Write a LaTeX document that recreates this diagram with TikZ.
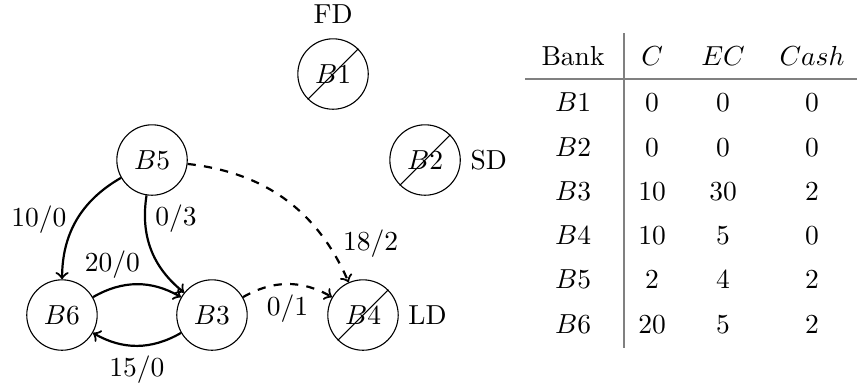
\documentclass[tikz,border=0pt]{standalone}
\usetikzlibrary{arrows, quotes}
\tikzstyle{bank} = [circle, draw, minimum size=9mm, inner sep=0pt]
\tikzstyle{flow} = [thick, ->]

\begin{document}
\begin{tikzpicture}[
debt/.style = {flow},
late/.style = {flow, dashed},
cell/.style = {anchor=base},
rule/.style = {draw=gray, line width=0.6pt}
                        ]
\useasboundingbox (0,0) rectangle (10.952,4.946);
% banks
\node [bank, label={[label distance=2pt]above:FD}] (B1) at (4.256,4.000) {$B1$};
\node [bank, label=right:SD] (B2) at (5.432,2.901) {$B2$};
\node [bank] (B5) at (1.943,2.901) {$B5$};
\node [bank] (B6) at (0.792,0.920) {$B6$};
\node [bank] (B3) at (2.709,0.920) {$B3$};
\node [bank, label=right:LD] (B4) at (4.639,0.920) {$B4$};
% defaulted banks are struck out
\draw (B1.south west) -- (B1.north east);
\draw (B2.south west) -- (B2.north east);
\draw (B4.south west) -- (B4.north east);
% exposures
\draw [debt] (B5) to[bend right=30] node[left] {10/0} (B6);
\draw [debt] (B5) to[bend right=30] node[pos=0.2, right] {0/3} (B3);
\draw [debt] (B6) to[bend left=30] node[pos=0.22, above] {20/0} (B3);
\draw [debt] (B3) to[bend left=30] node[below] {15/0} (B6);
\draw [late] (B3) to[bend left=30] node[below] {0/1} (B4);
\draw [late] (B5) to[bend left=30] node[pos=0.8, right=2pt] {18/2} (B4);
% table
\node [cell] (hbank) at (7.323,4.115) {Bank};
\node [cell] (hc) at (8.333,4.115) {$C$};
\node [cell] (hec) at (9.240,4.115) {$EC$};
\node [cell] (hcash) at (10.377,4.115) {$Cash$};
\foreach \name/\c/\ec/\cash [count=\i] in
    {B1/0/0/0, B2/0/0/0, B3/10/30/2, B4/10/5/0, B5/2/4/2, B6/20/5/2} {
  \node [cell] (bank\i) at (7.323,{4.080-0.565*\i}) {$\name$};
  \node [cell] (c\i) at (8.333,{4.080-0.565*\i}) {\c};
  \node [cell] (ec\i) at (9.240,{4.080-0.565*\i}) {\ec};
  \node [cell] (cash\i) at (10.377,{4.080-0.565*\i}) {\cash};
}
\coordinate (vtop) at (7.975,4.524);
\coordinate (vbot) at (7.975,0.498);
\coordinate (hleft) at (6.710,3.936);
\coordinate (hright) at (10.952,3.936);
\draw [rule] (vtop) -- (vbot);
\draw [rule] (hleft) -- (hright);
\end{tikzpicture}
\end{document}
